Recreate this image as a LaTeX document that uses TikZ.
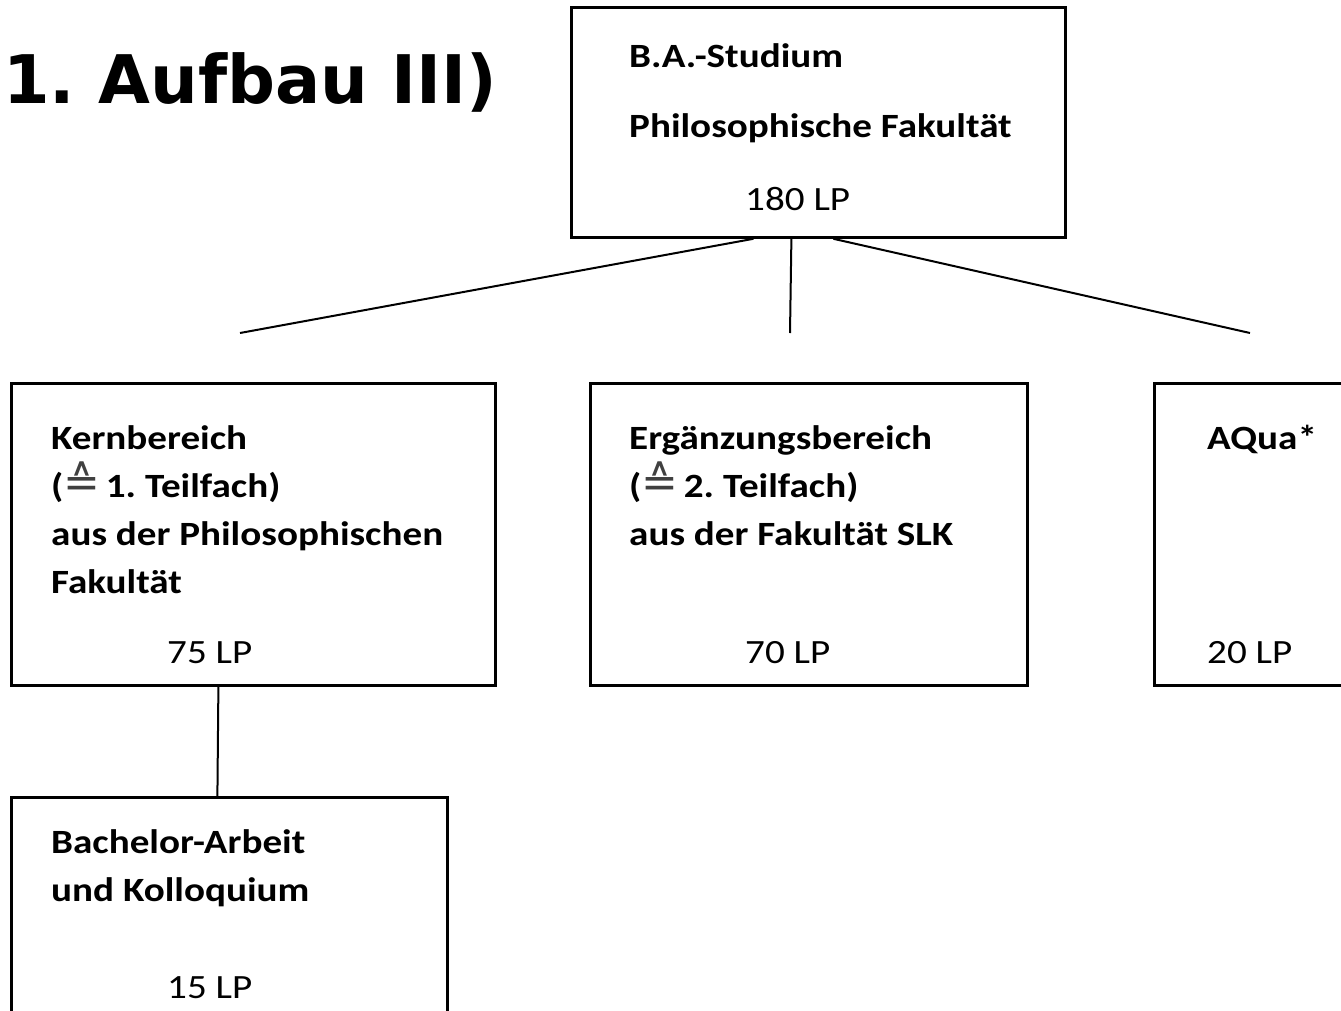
\documentclass[tikz,border=0pt]{standalone}
\usepackage{fontspec}
\setmainfont{Carlito}[FakeStretch=1.15]
\newfontfamily\titlefont{DejaVu Sans}
\newfontfamily\symfont{DejaVu Sans}
\newcommand{\entspr}{{\symfont\mdseries\fontsize{44}{48}\selectfont\color{black!75}≙}}
\frenchspacing
\begin{document}
\begin{tikzpicture}[x=1pt,y=-1pt,line join=miter,
    box/.style={draw,line width=2.8pt,anchor=north west,inner sep=0pt},
    txt/.style={anchor=base west,inner sep=0pt,align=left,font=\fontsize{34}{48}\selectfont\bfseries},
    lp/.style={anchor=base west,inner sep=0pt,font=\fontsize{34}{48}\selectfont},
    con/.style={line width=2pt}]
    \useasboundingbox (0,0) rectangle (1341,1010);
    % title
    \node[anchor=base west,inner sep=0pt,font=\titlefont\bfseries\fontsize{67}{70}\selectfont] (title) at (3,103) {1. Aufbau III)};
    % boxes
    \node[box,minimum width=494pt,minimum height=230pt] (ba) at (570,6) {};
    \node[box,minimum width=484pt,minimum height=302pt] (kern) at (10,382) {};
    \node[box,minimum width=437pt,minimum height=302pt] (erg) at (589,382) {};
    \node[box,minimum width=210pt,minimum height=302pt] (aqua) at (1153,382) {};
    \node[box,minimum width=436pt,minimum height=240pt] (bach) at (10,796) {};
    % texts (base of a node = baseline of its last line)
    \node[txt] (ba1) at (629,67) {B.A.-Studium};
    \node[txt] (ba2) at (629,137) {Philosophische Fakultät};
    \node[lp] (balp) at (745,210) {180 LP};
    \node[txt] (kern1) at (51,593) {Kernbereich\\(\entspr\,1. Teilfach)\\aus der Philosophischen\\Fakultät};
    \node[lp] (kernlp) at (167,663) {75 LP};
    \node[txt] (erg1) at (629,545) {Ergänzungsbereich\\(\entspr\,2. Teilfach)\\aus der Fakultät SLK};
    \node[lp] (erglp) at (745,663) {70 LP};
    \node[txt] (aqua1) at (1207,449) {AQua*};
    \node[lp] (aqualp) at (1207,663) {20 LP};
    \node[txt] (bach1) at (51,901) {Bachelor-Arbeit\\und Kolloquium};
    \node[lp] (bachlp) at (167,998) {15 LP};
    % connectors
    \coordinate (kt) at (240,333);
    \coordinate (et) at (790,333);
    \coordinate (at) at (1250,333);
    \draw[con]
    ([xshift=-65pt]ba.south)--(kt)
    ([xshift=-27pt]ba.south)--(et)
    ([xshift=15pt]ba.south)--(at)
    ([xshift=-35pt]kern.south)--([xshift=-12pt]bach.north)
    ;
\end{tikzpicture}
\end{document}
